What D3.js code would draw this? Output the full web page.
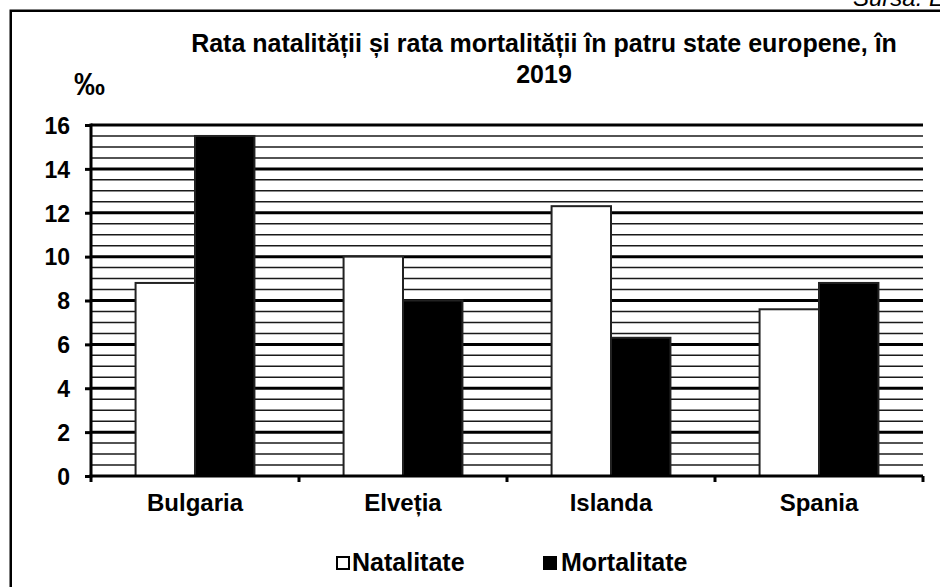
<!DOCTYPE html>
<html>
<head>
<meta charset="utf-8">
<script src="https://cdn.jsdelivr.net/npm/d3@7"></script>
<style>
  html, body { margin: 0; padding: 0; background: #fff; }
  svg { display: block; font-family: "Liberation Sans", Arial, sans-serif; }
</style>
</head>
<body>
<svg id="chart" width="940" height="587"></svg>
<script>
// ---- data ----
const categories = ["Bulgaria", "Elveția", "Islanda", "Spania"];
const seriesNames = ["Natalitate", "Mortalitate"];
const natalitate = [8.8, 10.0, 12.3, 7.6];
const mortalitate = [15.5, 8.0, 6.3, 8.8];
const yTicks = [0, 2, 4, 6, 8, 10, 12, 14, 16];
const yMinorTicks = [0.5, 1, 1.5, 2.5, 3, 3.5, 4.5, 5, 5.5, 6.5, 7, 7.5, 8.5, 9, 9.5,
                     10.5, 11, 11.5, 12.5, 13, 13.5, 14.5, 15, 15.5];
const titleLines = ["Rata natalității și rata mortalității în patru state europene, în", "2019"];
const unitLabel = "‰";
const sourceLabel = "Sursa: Eurostat";

const seriesValues = [natalitate, mortalitate];
const seriesFill = ["#ffffff", "#000000"];

const svg = d3.select("#chart");
const W = 940, H = 587;
const plot = { left: 91, right: 923, top: 125, bottom: 476 };

// outer frame
svg.append("rect").attr("x", 0).attr("y", 0).attr("width", W).attr("height", H).attr("fill", "#fff");
svg.append("rect").attr("x", 10.75).attr("y", 10.75).attr("width", 1000).attr("height", 700)
  .attr("fill", "#fff").attr("stroke", "#000").attr("stroke-width", 2.5);

// source (clipped at top, as in the reference)
svg.append("text").attr("x", 853).attr("y", 6).attr("font-size", 24).attr("font-style", "italic")
  .attr("fill", "#000").text(sourceLabel);

// scales
const y = d3.scaleLinear().domain([0, 16]).range([plot.bottom, plot.top]);
const x0 = d3.scaleBand().domain(categories).range([plot.left, plot.right]).padding(0);
const x1 = d3.scaleBand().domain(seriesNames).range([0, x0.bandwidth()]).paddingInner(0).paddingOuter(0.75);

// minor gridlines
svg.append("g").selectAll("line").data(yMinorTicks).join("line")
  .attr("x1", plot.left).attr("x2", plot.right)
  .attr("y1", d => y(d)).attr("y2", d => y(d))
  .attr("stroke", "#1a1a1a").attr("stroke-width", 1.5);

// major gridlines
svg.append("g").selectAll("line").data(yTicks.filter(d => d > 0)).join("line")
  .attr("x1", plot.left).attr("x2", plot.right)
  .attr("y1", d => y(d)).attr("y2", d => y(d))
  .attr("stroke", "#000").attr("stroke-width", 3);

// bars
const groups = svg.append("g").selectAll("g").data(categories).join("g")
  .attr("transform", d => `translate(${x0(d)},0)`);
groups.selectAll("rect")
  .data((c, i) => seriesNames.map((s, k) => ({ s, k, v: seriesValues[k][i] })))
  .join("rect")
  .attr("x", d => x1(d.s))
  .attr("width", x1.bandwidth())
  .attr("y", d => y(d.v))
  .attr("height", d => y(0) - y(d.v))
  .attr("fill", d => seriesFill[d.k])
  .attr("stroke", "#222").attr("stroke-width", 2);

// y axis
const yAxis = d3.axisLeft(y).tickValues(yTicks).tickSize(6).tickFormat(d3.format("d"));
const gy = svg.append("g").attr("transform", `translate(${plot.left},0)`).call(yAxis);
gy.select(".domain").attr("stroke", "#000").attr("stroke-width", 3)
  .attr("d", `M0,${plot.top - 1.5}V${plot.bottom + 1.5}`);
gy.selectAll(".tick line").attr("stroke", "#000").attr("stroke-width", 3);
gy.selectAll(".tick text").attr("x", -21).attr("dy", "0.36em")
  .attr("font-size", 23).attr("font-weight", "bold").attr("fill", "#000")
  .attr("font-family", "Liberation Sans, Arial, sans-serif");

// x axis
const xAxis = d3.axisBottom(x0).tickSize(0).tickFormat(d => d);
const gx = svg.append("g").attr("transform", `translate(0,${plot.bottom})`).call(xAxis);
gx.select(".domain").attr("stroke", "#000").attr("stroke-width", 3)
  .attr("d", `M${plot.left - 1.5},0H${plot.right}`);
gx.selectAll(".tick text").attr("y", 35).attr("dy", 0)
  .attr("font-size", 24).attr("font-weight", "bold").attr("fill", "#000")
  .attr("font-family", "Liberation Sans, Arial, sans-serif");
// category boundary ticks
const boundaries = categories.map(c => x0(c)).concat([x0(categories[categories.length - 1]) + x0.bandwidth()]);
gx.append("g").selectAll("line").data(boundaries).join("line")
  .attr("x1", d => d).attr("x2", d => d).attr("y1", 0).attr("y2", 6)
  .attr("stroke", "#000").attr("stroke-width", 3);

// title
svg.append("g").selectAll("text").data(titleLines).join("text")
  .attr("x", 544).attr("y", (d, i) => 52 + i * 31)
  .attr("text-anchor", "middle").attr("font-size", 25).attr("font-weight", "bold").attr("fill", "#000")
  .text(d => d);

// unit label
svg.append("text").attr("x", 74).attr("y", 95).attr("font-size", 31).attr("font-weight", "bold")
  .attr("fill", "#000").text(unitLabel);

// legend
const legendPos = [{ sx: 336, tx: 352 }, { sx: 543, tx: 561 }];
const lg = svg.append("g").selectAll("g").data(seriesNames).join("g");
lg.append("rect")
  .attr("x", (d, i) => legendPos[i].sx + 1).attr("y", 557)
  .attr("width", 12).attr("height", 12)
  .attr("fill", (d, i) => seriesFill[i]).attr("stroke", "#000").attr("stroke-width", 2);
lg.append("text")
  .attr("x", (d, i) => legendPos[i].tx).attr("y", 571)
  .attr("font-size", 25).attr("font-weight", "bold").attr("fill", "#000")
  .text(d => d);
</script>
</body>
</html>
